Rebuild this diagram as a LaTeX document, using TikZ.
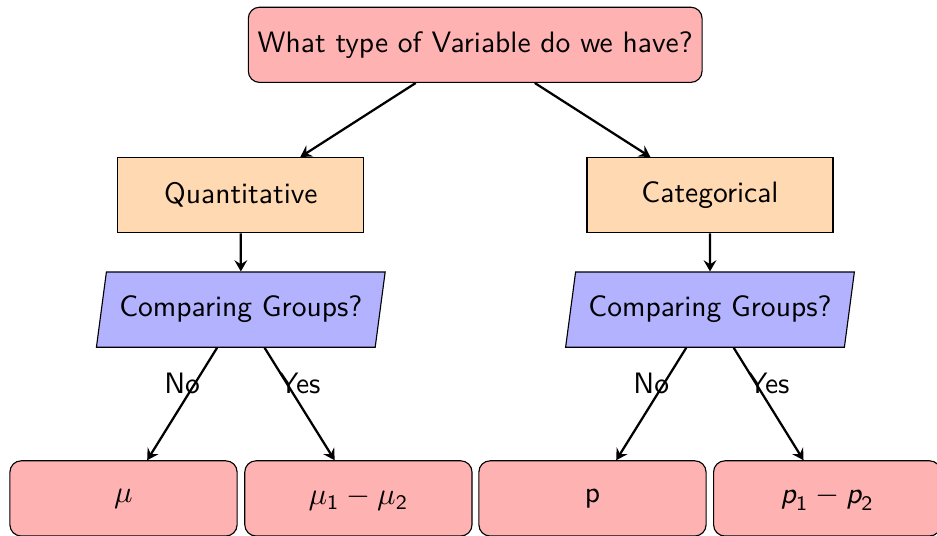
\documentclass[tikz,border=0pt]{standalone}
\usepackage{amsmath,amssymb}
\usepackage{tikz}
\usetikzlibrary{arrows.meta,positioning,shapes.geometric}

\begin{document}
\begin{tikzpicture}[
  >={Stealth[length=1.4mm, width=1.6mm, inset=0.5mm]},
  every node/.style={font=\sffamily\fontsize{10.5}{12.6}\selectfont},
  question/.style={draw, rounded corners=4pt, fill=red!30,
                   minimum width=56.1mm, minimum height=9.4mm},
  vartype/.style={draw, fill=orange!30, minimum width=30.75mm,
                  minimum height=9.4mm},
  groups/.style={draw, trapezium, trapezium left angle=78,
                 trapezium right angle=102, trapezium stretches=true,
                 fill=blue!30, minimum width=36.5mm, minimum height=9.4mm},
  param/.style={draw, rounded corners=4pt, fill=red!30,
                minimum width=28.4mm, minimum height=9.4mm},
  link/.style={->, thick}
]
  \useasboundingbox (0, 0) rectangle (11.7125, -6.6875);

  \node[question] (type) at (5.94, -0.56) {What type of Variable do we have?};
  \node[vartype] (quant) at (3.01, -2.44) {Quantitative};
  \node[vartype] (cat) at (8.875, -2.44) {Categorical};
  \node[groups] (qgroups) at (3.01, -3.87) {Comparing Groups?};
  \node[groups] (cgroups) at (8.875, -3.87) {Comparing Groups?};
  \node[param] (mu) at (1.544, -6.23) {$\mu$};
  \node[param] (mudiff) at (4.48, -6.23) {$\mu_{\text{1}} - \mu_{\text{2}}$};
  \node[param] (prop) at (7.406, -6.23) {p};
  \node[param] (pdiff) at (10.34, -6.23)
    {$\textit{p}_{\text{1}} - \textit{p}_{\text{2}}$};

  \draw[link] (type) -- (quant);
  \draw[link] (type) -- (cat);
  \draw[link] (quant) -- (qgroups);
  \draw[link] (cat) -- (cgroups);
  \draw[link] (qgroups) -- node[above] {No} (mu);
  \draw[link] (qgroups) -- node[above] {Yes} (mudiff);
  \draw[link] (cgroups) -- node[above] {No} (prop);
  \draw[link] (cgroups) -- node[above] {Yes} (pdiff);
\end{tikzpicture}
\end{document}
